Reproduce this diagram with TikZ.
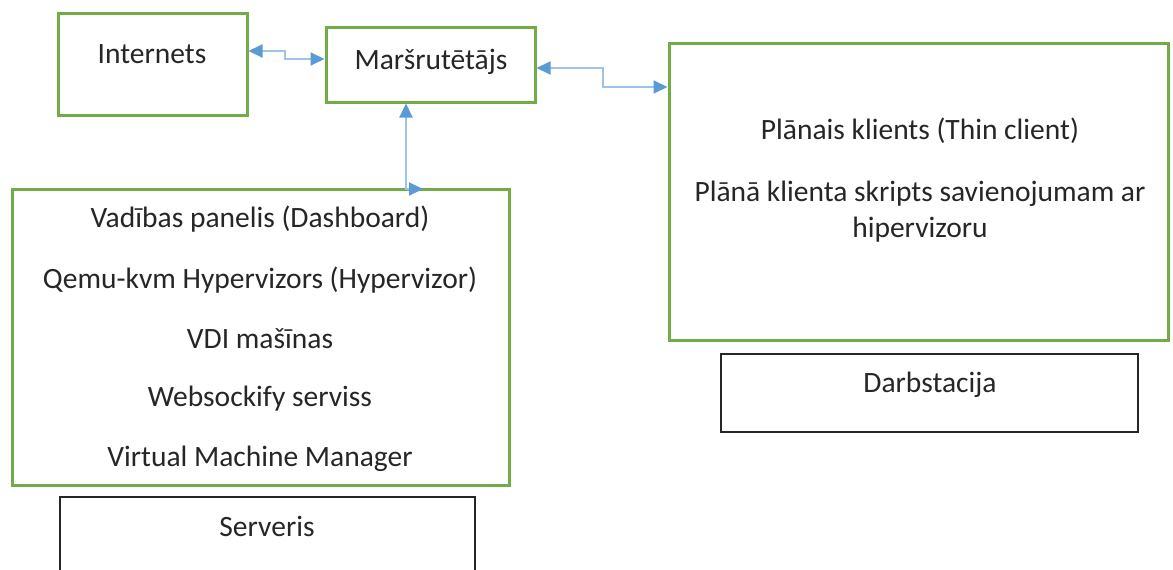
\documentclass[tikz,border=0pt]{standalone}
\usepackage{fontspec}
\setmainfont{Carlito}
\usetikzlibrary{arrows.meta}
\definecolor{boxgreen}{HTML}{70AD47}
\definecolor{linkblue}{HTML}{9DC3E6}
\definecolor{tipblue}{HTML}{5B9BD5}
\definecolor{txt}{HTML}{262626}
\tikzset{
  greenbox/.style={draw=boxgreen, line width=3pt, fill=white, inner sep=0pt},
  blackbox/.style={draw=black!85, line width=1.6pt, fill=white, inner sep=0pt},
  lbl/.style={text=txt, font=\fontsize{29.5}{36}\selectfont, inner sep=0pt, align=center},
  conn/.style={draw=linkblue, line width=2pt,
    {Triangle[length=14pt,width=13pt,color=tipblue]}-{Triangle[length=14pt,width=13pt,color=tipblue]}},
}
\begin{document}
\begin{tikzpicture}[x=1pt,y=-1pt]
\clip (0,0) rectangle (1173,570);
\fill[white] (0,0) rectangle (1173,570);
% boxes
\node[greenbox, minimum width=189pt, minimum height=102pt] (inet) at (152.5,64) {};
\node[greenbox, minimum width=209pt, minimum height=75pt] (router) at (430.5,64.5) {};
\node[greenbox, minimum width=499pt, minimum height=297pt] (thin) at (918.5,191.5) {};
\node[blackbox, minimum width=417pt, minimum height=78pt] (ws) at (929.5,393) {};
\node[greenbox, minimum width=497pt, minimum height=296pt] (srv) at (260.5,337) {};
\node[blackbox, minimum width=415pt, minimum height=110pt] (srvlbl) at (267.5,552) {};
% texts
\node[lbl] (tinet) at (152,54) {Internets};
\node[lbl] (trouter) at (431,62) {Maršrutētājs};
\node[lbl] (tthin1) at (920,131) {Plānais klients (Thin client)};
\node[lbl] (tthin2) at (920,212) {Plānā klienta skripts savienojumam ar\\hipervizoru};
\node[lbl] (ts1) at (260,219) {Vadības panelis (Dashboard)};
\node[lbl] (ts2) at (260,280) {Qemu-kvm Hypervizors (Hypervizor)};
\node[lbl] (ts3) at (260,339) {VDI mašīnas};
\node[lbl] (ts4) at (260,399) {Websockify serviss};
\node[lbl] (ts5) at (260,459) {Virtual Machine Manager};
\node[lbl] (tserv) at (267,526) {Serveris};
\node[lbl] (tws) at (930,385) {Darbstacija};
% connectors
\coordinate (srvin) at (423,189);
\draw[conn] (inet.east |- 0,51) -- (285,51) -- (285,59) -- (router.west |- 0,59);
\draw[conn] (router.east |- 0,68) -- (603,68) -- (603,87) -- (thin.west |- 0,87);
\draw[conn] (router.south -| 406,0) -- (406,189) -- (srvin);
\end{tikzpicture}
\end{document}
